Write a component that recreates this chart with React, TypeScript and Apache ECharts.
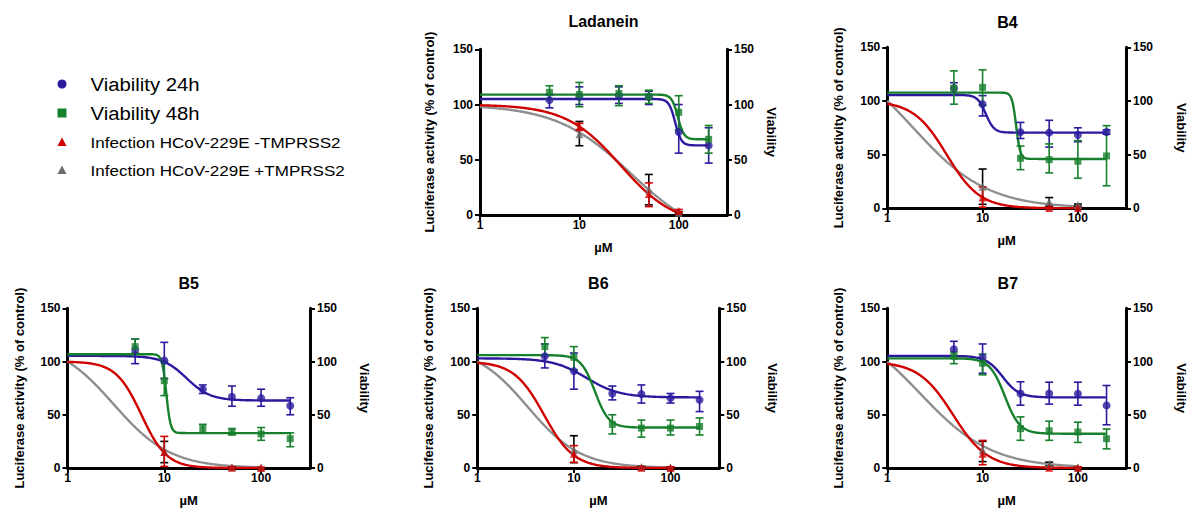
import React, { useEffect, useRef } from 'react';
import * as echarts from 'echarts';

// ---------- data ----------
const panelTitles = ['Ladanein', 'B4', 'B5', 'B6', 'B7'];
const seriesNames = ['Viability 24h', 'Viability 48h', 'Infection HCoV-229E -TMPRSS2', 'Infection HCoV-229E +TMPRSS2'];
const viabilityConc = [5, 10, 25, 50, 100, 200];
const infectionConc = [10, 50, 100];
const xTickValues = [1, 10, 100];
const yTickInterval = 50;

// Viability 24h (mean, lower and upper end of error bar), one row per panel
const via24 = [
  [104, 107, 108, 107, 75, 63],
  [111.8, 96.9, 71, 70.5, 68.3, 71.1],
  [111, 101, 74, 67, 65.6, 58.4],
  [105, 91, 70, 69.4, 65.6, 64],
  [111.6, 104, 70, 70, 69.7, 58.8],
];
const via24Lo = [
  [97, 100, 101, 100, 56, 47],
  [106, 86, 65, 57, 62, 69],
  [98, 84, 70, 58, 58, 50],
  [94, 74, 64, 61, 61, 53],
  [105, 89, 59, 60, 59, 40.6],
];
const via24Hi = [
  [109, 116, 116, 112, 100, 79],
  [117, 105, 80, 82, 75, 73],
  [121, 118, 78, 77, 74, 66],
  [116.5, 108, 77, 78, 70, 72],
  [119, 116.5, 81, 80.6, 80.6, 77.5],
];

// Viability 48h
const via48 = [
  [111, 109, 110, 107, 93, 68.5],
  [112, 112.7, 46.6, 45.3, 43.8, 48.8],
  [114, 82, 37, 34.4, 32, 27.5],
  [114, 104, 41, 37.5, 37.5, 39],
  [105, 98.4, 37, 35, 33.8, 27.5],
];
const via48Lo = [
  [105, 98, 99, 101, 77, 56],
  [97, 96, 36, 33, 28, 21],
  [108, 68, 33, 31, 26, 20],
  [106, 92, 32, 29, 31, 31],
  [98, 87.5, 26, 26, 24, 18],
];
const via48Hi = [
  [117, 120, 117, 113, 108, 81],
  [128, 129, 58, 60, 63, 77],
  [121, 100, 41, 37, 38, 33],
  [122.5, 114, 50, 45, 45, 47],
  [109, 107, 48, 44, 43, 36.6],
];

// Infection -TMPRSS2
const infMinus = [
  [79.5, 19, 3.7],
  [10, 0.3, 0.2],
  [15, 0.5, 0.3],
  [13.5, 0.3, 0.3],
  [13.4, 0.3, 0.3],
];
const infMinusLo = [
  [77, 7.6, 2.5],
  [1, 0, 0],
  [1.5, 0, 0],
  [5.3, 0, 0],
  [3.1, 0, 0],
];
const infMinusHi = [
  [83, 29.1, 5],
  [20, 1, 0.5],
  [29.7, 1, 0.5],
  [21, 1, 1],
  [25.9, 1, 1],
];

// Infection +TMPRSS2
const infPlus = [
  [73, 23, 2],
  [20, 6, 3],
  [15, 0.5, 0.3],
  [17, 1, 0.5],
  [17, 3.75, 0.5],
];
const infPlusLo = [
  [62.7, 9.2, 1],
  [3.7, 2, 2],
  [5, 0, 0],
  [5, 0.5, 0],
  [6, 2, 0],
];
const infPlusHi = [
  [84.7, 36.7, 3],
  [36.6, 10, 4],
  [25, 1, 0.5],
  [30.3, 1.5, 1],
  [25, 5.5, 1],
];

// Dose-response fit curves drawn in the figure: [top, bottom, EC50, Hill slope]
const fit24 = [[105, 63, 92, 14], [105.6, 70.5, 10.8, 10], [105.3, 63.4, 17, 3.5], [103, 66.3, 13.5, 2.5], [105.3, 66.3, 16.2, 5]];
const fit48 = [[109, 68.5, 98, 14], [107.8, 46, 22.5, 20], [106.9, 32.8, 10.5, 20], [106, 38, 16.5, 6], [103, 32.2, 17.1, 5.5]];
const fitMinus = [[100, -10, 26, 1.58], [100, 0, 4.2, 2.5], [100, 0, 5.8, 3.3], [100, 0, 4.9, 2.8], [100, 0, 4.9, 2.4]];
const fitPlus = [[100, -25, 33, 1.15], [150, 0, 1.87, 1.11], [120, 0, 2.99, 1.47], [115, 0, 3.32, 1.58], [140, 0, 2.21, 1.155]];
const fitStart = 1;
const viabilityFitEnd = 200;
const infectionFitEnd = 100;

// ---------- layout / style ----------
const FONT = 'Liberation Sans, Arial, Helvetica, sans-serif';
const BLUE = '#2b1a9e';
const GREEN = '#17802c';
const RED = '#d00000';
const GRAY = '#8e8e8e';
const GRAY_MARK = '#6e6e6e';
const gridBoxes = [
  { left: 480, top: 49.3, width: 247, height: 165.7, xMax: 306, rightGap: 38, leftGap: 44 },
  { left: 887.3, top: 47.3, width: 240.4, height: 161, xMax: 320, rightGap: 49, leftGap: 42 },
  { left: 67.5, top: 308.3, width: 242.5, height: 160, xMax: 320, rightGap: 48, leftGap: 42 },
  { left: 477.3, top: 308.3, width: 242, height: 160, xMax: 320, rightGap: 47, leftGap: 42 },
  { left: 887.3, top: 308.3, width: 241, height: 160, xMax: 320, rightGap: 49, leftGap: 42 },
];
const titleY = [21, 22.5, 283, 283, 283];

function hill(p: number[], x: number) {
  const [top, bottom, ec50, h] = p;
  return bottom + (top - bottom) / (1 + Math.pow(x / ec50, h));
}
function fitLine(p: number[], xEnd: number) {
  const pts: number[][] = [];
  const n = 320;
  const l0 = Math.log10(fitStart);
  const l1 = Math.log10(xEnd);
  for (let k = 0; k <= n; k++) {
    const x = Math.pow(10, l0 + ((l1 - l0) * k) / n);
    pts.push([x, hill(p, x)]);
  }
  return pts;
}

function errSeries(i: number, conc: number[], mid: number[], lo: number[], hi: number[], color: string) {
  return {
    type: 'custom',
    xAxisIndex: i,
    yAxisIndex: 2 * i,
    z: 3,
    silent: true,
    data: conc.map((c, k) => [c, mid[k], lo[k], hi[k]]),
    renderItem: (params: any, api: any) => {
      const x = api.value(0);
      const p1 = api.coord([x, api.value(3)]);
      const p2 = api.coord([x, api.value(2)]);
      const w = 4;
      const style = { stroke: color, lineWidth: 1.6 };
      return {
        type: 'group',
        children: [
          { type: 'line', shape: { x1: p1[0], y1: p1[1], x2: p2[0], y2: p2[1] }, style },
          { type: 'line', shape: { x1: p1[0] - w, y1: p1[1], x2: p1[0] + w, y2: p1[1] }, style },
          { type: 'line', shape: { x1: p2[0] - w, y1: p2[1], x2: p2[0] + w, y2: p2[1] }, style },
        ],
      };
    },
  };
}

function lineSeries(i: number, data: number[][], color: string) {
  return {
    type: 'line',
    xAxisIndex: i,
    yAxisIndex: 2 * i,
    z: 2,
    data,
    showSymbol: false,
    symbol: 'none',
    silent: true,
    lineStyle: { color, width: 2.4 },
  };
}

function scatterSeries(i: number, conc: number[], vals: number[], symbol: string, size: number, color: string) {
  return {
    type: 'scatter',
    xAxisIndex: i,
    yAxisIndex: 2 * i,
    z: 4,
    symbol,
    symbolSize: size,
    silent: true,
    itemStyle: { color },
    data: conc.map((c, k) => [c, vals[k]]),
  };
}

function buildOption() {
  const grid: any[] = [];
  const xAxis: any[] = [];
  const yAxis: any[] = [];
  const series: any[] = [];
  const graphic: any[] = [];
  const axisLine = { show: true, onZero: false, lineStyle: { color: '#000', width: 3 } };
  const axisTick = { show: true, length: 5, lineStyle: { color: '#000', width: 2 } };
  const labelStyle = { color: '#000', fontWeight: 'bold', fontSize: 12, fontFamily: FONT };
  const nameStyle = { color: '#000', fontWeight: 'bold', fontSize: 13, fontFamily: FONT };

  gridBoxes.forEach((g, i) => {
    grid.push({ left: g.left, top: g.top, width: g.width, height: g.height, containLabel: false });
    xAxis.push({
      type: 'log',
      logBase: 10,
      gridIndex: i,
      min: 1,
      max: g.xMax,
      axisLine,
      axisTick: { ...axisTick, customValues: xTickValues },
      minorTick: { show: false },
      splitLine: { show: false },
      axisLabel: { ...labelStyle, margin: 4, customValues: xTickValues },
      name: 'µM',
      nameLocation: 'middle',
      nameGap: 26,
      nameTextStyle: nameStyle,
    });
    yAxis.push({
      type: 'value',
      gridIndex: i,
      position: 'left',
      min: 0,
      max: 150,
      interval: yTickInterval,
      axisLine,
      axisTick,
      splitLine: { show: false },
      axisLabel: { ...labelStyle, margin: 7 },
      name: 'Luciferase activity (% of control)',
      nameLocation: 'middle',
      nameGap: g.leftGap,
      nameTextStyle: nameStyle,
    });
    yAxis.push({
      type: 'value',
      gridIndex: i,
      position: 'right',
      min: 0,
      max: 150,
      interval: yTickInterval,
      axisLine,
      axisTick,
      splitLine: { show: false },
      axisLabel: { ...labelStyle, margin: 7 },
      name: 'Viability',
      nameLocation: 'middle',
      nameRotate: -90,
      nameGap: g.rightGap,
      nameTextStyle: nameStyle,
    });

    // curves
    series.push(lineSeries(i, fitLine(fitPlus[i], infectionFitEnd), GRAY));
    series.push(lineSeries(i, fitLine(fitMinus[i], infectionFitEnd), RED));
    series.push(lineSeries(i, fitLine(fit24[i], viabilityFitEnd), BLUE));
    series.push(lineSeries(i, fitLine(fit48[i], viabilityFitEnd), GREEN));
    // error bars
    series.push(errSeries(i, infectionConc, infPlus[i], infPlusLo[i], infPlusHi[i], '#000'));
    series.push(errSeries(i, infectionConc, infMinus[i], infMinusLo[i], infMinusHi[i], RED));
    series.push(errSeries(i, viabilityConc, via24[i], via24Lo[i], via24Hi[i], BLUE));
    series.push(errSeries(i, viabilityConc, via48[i], via48Lo[i], via48Hi[i], GREEN));
    // markers
    series.push(scatterSeries(i, infectionConc, infPlus[i], 'triangle', 8, GRAY_MARK));
    series.push(scatterSeries(i, infectionConc, infMinus[i], 'triangle', 8, RED));
    series.push(scatterSeries(i, viabilityConc, via24[i], 'circle', 8, BLUE));
    series.push(scatterSeries(i, viabilityConc, via48[i], 'rect', 7, GREEN));

    graphic.push({
      type: 'text',
      x: g.left + g.width / 2,
      y: titleY[i],
      style: {
        text: panelTitles[i],
        fill: '#000',
        font: `bold 16px ${FONT}`,
        align: 'center',
        verticalAlign: 'middle',
      },
    });
  });

  // legend
  const lx = 62;
  const ly = [84, 113, 142, 170];
  graphic.push({ type: 'circle', shape: { cx: lx, cy: ly[0], r: 4.5 }, style: { fill: BLUE } });
  graphic.push({ type: 'rect', shape: { x: lx - 4.5, y: ly[1] - 4.5, width: 9, height: 9 }, style: { fill: GREEN } });
  graphic.push({ type: 'polygon', shape: { points: [[lx, ly[2] - 4.5], [lx - 4.5, ly[2] + 4], [lx + 4.5, ly[2] + 4]] }, style: { fill: RED } });
  graphic.push({ type: 'polygon', shape: { points: [[lx, ly[3] - 4.5], [lx - 4.5, ly[3] + 4], [lx + 4.5, ly[3] + 4]] }, style: { fill: GRAY_MARK } });
  seriesNames.forEach((nm, k) => {
    const big = k < 2;
    graphic.push({
      type: 'text',
      x: 90.5,
      y: ly[k],
      scaleX: big ? 1.07 : 1.1,
      style: {
        text: nm,
        fill: '#000',
        font: `${big ? 19 : 15.5}px ${FONT}`,
        align: 'left',
        verticalAlign: 'middle',
      },
    });
  });

  return {
    animation: false,
    backgroundColor: '#fff',
    grid,
    xAxis,
    yAxis,
    series,
    graphic,
  };
}

export default function App() {
  const ref = useRef<HTMLDivElement>(null);
  useEffect(() => {
    if (!ref.current) return;
    const chart = echarts.init(ref.current, undefined, { renderer: 'svg' });
    chart.setOption(buildOption() as any);
    return () => chart.dispose();
  }, []);
  return (
    <div
      ref={ref}
      style={{ position: 'fixed', left: 0, top: 0, width: 1189, height: 508, background: '#fff' }}
    />
  );
}
